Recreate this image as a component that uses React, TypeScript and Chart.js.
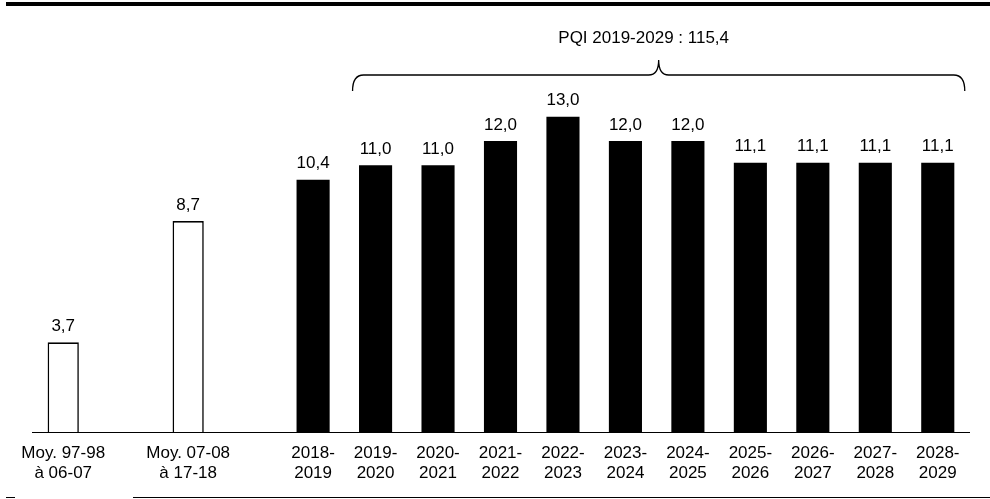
import React, { useEffect, useRef } from "react";
import { Chart, registerables } from "chart.js";

Chart.register(...registerables);

// Categories (blank slots keep the gaps between groups)
const categories: (string | string[])[] = [
  ["Moy. 97-98", "à 06-07"],
  "",
  ["Moy. 07-08", "à 17-18"],
  "",
  ["2018-", "2019"],
  ["2019-", "2020"],
  ["2020-", "2021"],
  ["2021-", "2022"],
  ["2022-", "2023"],
  ["2023-", "2024"],
  ["2024-", "2025"],
  ["2025-", "2026"],
  ["2026-", "2027"],
  ["2027-", "2028"],
  ["2028-", "2029"],
];

const historicalAverages: (number | null)[] = [3.7, null, 8.7, null, null, null, null, null, null, null, null, null, null, null, null];
const annualInvestments: (number | null)[] = [null, null, null, null, 10.4, 11.0, 11.0, 12.0, 13.0, 12.0, 12.0, 11.1, 11.1, 11.1, 11.1];

const braceLabel = "PQI 2019-2029 : 115,4";
const braceFromIndex = 5;
const braceToIndex = 14;

const FONT = "17px 'Liberation Sans', Arial, sans-serif";

const fmt = (v: number) => v.toFixed(1).replace(".", ",");

const decorPlugin = {
  id: "decor",
  afterDatasetsDraw(chart: any) {
    const ctx = chart.ctx as CanvasRenderingContext2D;
    const x = chart.scales.x;
    const y = chart.scales.y;
    ctx.save();
    // value labels
    ctx.fillStyle = "#000";
    ctx.font = FONT;
    ctx.textAlign = "center";
    ctx.textBaseline = "alphabetic";
    chart.data.datasets.forEach((ds: any) => {
      ds.data.forEach((v: number | null, i: number) => {
        if (v == null) return;
        ctx.fillText(fmt(v), x.getPixelForValue(i), y.getPixelForValue(v) - 11.5);
      });
    });

    // brace
    const L = x.getPixelForValue(braceFromIndex) - 23;
    const R = x.getPixelForValue(braceToIndex) + 27;
    const C = (L + R) / 2;
    const yH = 75;
    const yEnd = 91;
    const yTop = 60;
    ctx.strokeStyle = "#000";
    ctx.lineWidth = 1.3;
    ctx.beginPath();
    ctx.moveTo(L, yEnd);
    ctx.quadraticCurveTo(L, yH, L + 11, yH);
    ctx.lineTo(C - 10, yH);
    ctx.quadraticCurveTo(C, yH, C, yTop);
    ctx.quadraticCurveTo(C, yH, C + 10, yH);
    ctx.lineTo(R - 11, yH);
    ctx.quadraticCurveTo(R, yH, R, yEnd);
    ctx.stroke();

    ctx.fillText(braceLabel, C - 15, 43);

    // frame rules
    ctx.fillRect(6, 2, 984, 4);
    ctx.fillRect(6, 497, 9, 1);
    ctx.fillRect(133, 497, 857, 1);
    ctx.restore();
  },
};

export default function App() {
  const canvasRef = useRef<HTMLCanvasElement | null>(null);

  useEffect(() => {
    const canvas = canvasRef.current;
    if (!canvas) return;
    const chart = new Chart(canvas, {
      type: "bar",
      data: {
        labels: categories,
        datasets: [
          {
            label: "Moyennes historiques",
            data: historicalAverages,
            backgroundColor: "#ffffff",
            borderColor: "#000000",
            borderWidth: 1.6,
            borderSkipped: "start",
            grouped: false,
            barPercentage: 0.5,
            categoryPercentage: 1,
          },
          {
            label: "PQI",
            data: annualInvestments,
            backgroundColor: "#000000",
            borderWidth: 0,
            grouped: false,
            barPercentage: 0.53,
            categoryPercentage: 1,
          },
        ],
      },
      options: {
        responsive: false,
        animation: false,
        devicePixelRatio: 1,
        layout: { padding: { left: 32, right: 21, top: 44, bottom: 0 } },
        plugins: { legend: { display: false }, tooltip: { enabled: false } },
        scales: {
          x: {
            grid: { display: false, drawTicks: false },
            border: { display: true, color: "#000", width: 1 },
            ticks: {
              color: "#000",
              font: { family: "'Liberation Sans', Arial, sans-serif", size: 17, lineHeight: 1.18 },
              padding: 11,
              maxRotation: 0,
              autoSkip: false,
            },
            afterFit: (scale: any) => {
              scale.height = 67;
            },
          },
          y: {
            display: false,
            min: 0,
            max: 16,
          },
        },
      },
      plugins: [decorPlugin],
    });
    return () => chart.destroy();
  }, []);

  return (
    <div style={{ position: "absolute", left: 0, top: 0, width: 990, height: 499, background: "#fff" }}>
      <canvas ref={canvasRef} width={990} height={499} />
    </div>
  );
}
